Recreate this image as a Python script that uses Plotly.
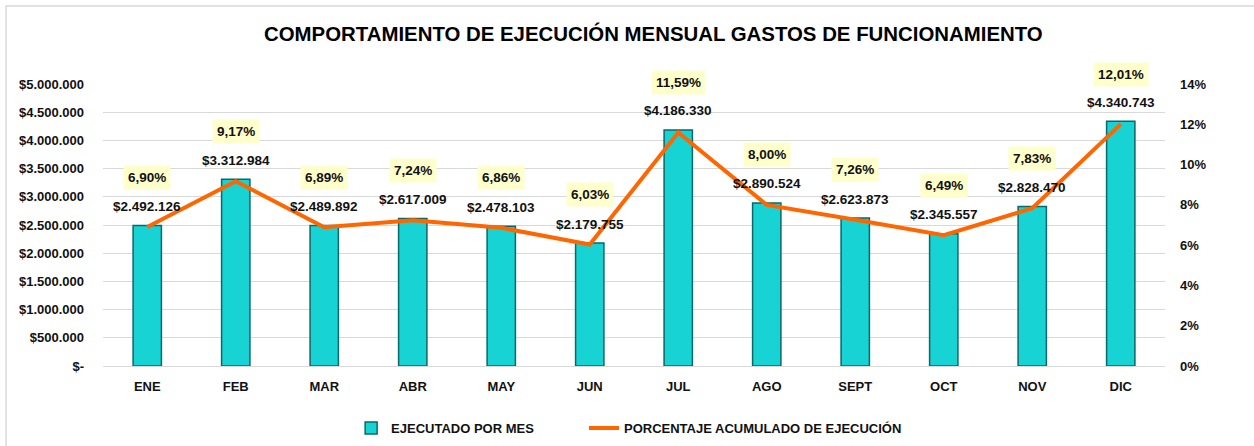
import plotly.graph_objects as go

meses = ["ENE", "FEB", "MAR", "ABR", "MAY", "JUN", "JUL", "AGO", "SEPT", "OCT", "NOV", "DIC"]
ejecutado = [2492126, 3312984, 2489892, 2617009, 2478103, 2179755, 4186330, 2890524, 2623873, 2345557, 2828470, 4340743]
porcentaje = [6.90, 9.17, 6.89, 7.24, 6.86, 6.03, 11.59, 8.00, 7.26, 6.49, 7.83, 12.01]

left_ticks = [0, 500000, 1000000, 1500000, 2000000, 2500000, 3000000, 3500000, 4000000, 4500000, 5000000]
right_ticks = [0, 2, 4, 6, 8, 10, 12, 14]

FONT = "Liberation Sans, Arial, sans-serif"
INK = "#111111"


def money(v):
    return "$-" if v == 0 else "$" + f"{v:,}".replace(",", ".")


def pct(p):
    return f"{p:.2f}%".replace(".", ",")


fig = go.Figure()
fig.add_trace(go.Bar(
    x=meses, y=ejecutado, name="<b>EJECUTADO POR MES</b>",
    marker=dict(color="#17D3D3", line=dict(color="#0A6868", width=1.5)),
    width=0.32, yaxis="y", legend="legend",
))
fig.add_trace(go.Scatter(
    x=meses, y=porcentaje, name="<b>PORCENTAJE ACUMULADO DE EJECUCIÓN</b>",
    mode="lines", line=dict(color="#FF6600", width=4), yaxis="y2", legend="legend2",
))

for m, v in zip(meses, ejecutado):
    fig.add_annotation(x=m, y=v, xref="x", yref="y", text="<b>" + money(v) + "</b>",
                       showarrow=False, yshift=19,
                       font=dict(family=FONT, size=13.5, color=INK))
for m, p in zip(meses, porcentaje):
    fig.add_annotation(x=m, y=p, xref="x", yref="y2", text="<b>" + pct(p) + "</b>",
                       showarrow=False, yshift=50, bgcolor="#FFFFCC", borderpad=4,
                       font=dict(family=FONT, size=13.5, color=INK))

fig.add_shape(type="rect", xref="paper", yref="paper",
              x0=-0.0913, x1=1.09, y0=-0.30, y1=1.2766,
              line=dict(color="#D9D9D9", width=1.5), fillcolor="rgba(0,0,0,0)", layer="below")

legend_common = dict(orientation="h", xref="container", yref="container",
                     xanchor="left", yanchor="middle", y=0.04,
                     font=dict(family=FONT, size=13, color=INK), bgcolor="rgba(0,0,0,0)")

fig.update_layout(
    width=1254, height=446,
    margin=dict(l=103, r=89, t=84, b=80),
    paper_bgcolor="white", plot_bgcolor="white",
    title=dict(text="<b>COMPORTAMIENTO DE EJECUCIÓN MENSUAL GASTOS DE FUNCIONAMIENTO</b>",
               x=0.521, xanchor="center", y=0.925, yanchor="middle",
               font=dict(family=FONT, size=20.4, color="#000000")),
    font=dict(family=FONT, size=13, color=INK),
    showlegend=True,
    legend=dict(x=0.280, **legend_common),
    legend2=dict(x=0.4657, **legend_common),
    xaxis=dict(showgrid=False, showline=True, linecolor="#D9D9D9", ticks="",
               ticklabelstandoff=8,
               tickfont=dict(family=FONT, size=13, color=INK),
               tickvals=meses, ticktext=["<b>" + m + "</b>" for m in meses]),
    yaxis=dict(range=[0, 5000000], tickvals=left_ticks,
               ticktext=["<b>" + money(t) + "</b>" for t in left_ticks],
               showgrid=True, gridcolor="#D9D9D9", gridwidth=1, zeroline=False,
               showline=False, ticks="", ticklabelstandoff=18,
               tickfont=dict(family=FONT, size=13, color=INK)),
    yaxis2=dict(range=[0, 14], tickvals=right_ticks,
                ticktext=[f"<b>{t}%</b>" for t in right_ticks],
                overlaying="y", side="right", showgrid=False, zeroline=False,
                showline=False, ticks="", ticklabelstandoff=14,
                tickfont=dict(family=FONT, size=13, color=INK)),
)

fig.write_html("out.html", config={"displayModeBar": False},
               post_script="document.body.style.margin='0';")
